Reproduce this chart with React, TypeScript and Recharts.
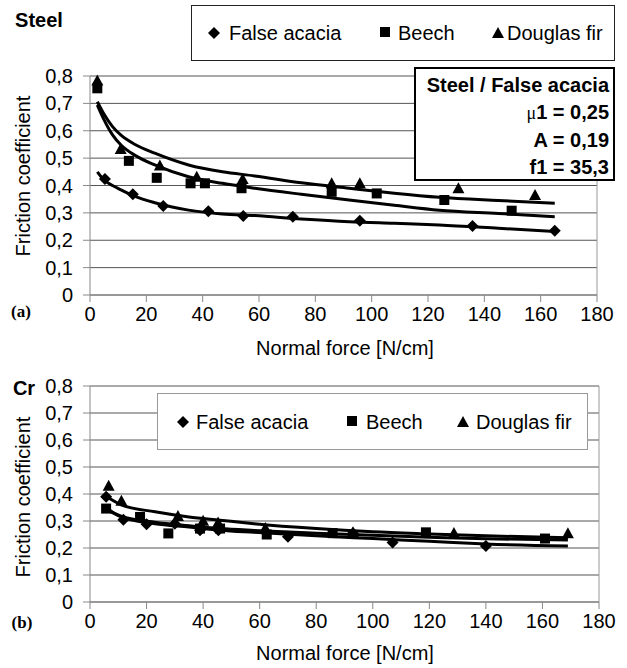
import React from "react";
import { ComposedChart, Line, Scatter, XAxis, YAxis, CartesianGrid, ReferenceLine } from "recharts";

const FONT = "'Liberation Sans', Arial, sans-serif";

const xTicks = [0, 20, 40, 60, 80, 100, 120, 140, 160, 180];
const yTicks = [0, 0.1, 0.2, 0.3, 0.4, 0.5, 0.6, 0.7, 0.8];
const seriesNames = ["False acacia", "Beech", "Douglas fir"];

// (a) Steel - measured points
const steelAcaciaX = [5.3, 15.2, 26, 42, 54.4, 72, 95.8, 135.8, 165];
const steelAcaciaY = [0.424, 0.368, 0.325, 0.306, 0.289, 0.286, 0.271, 0.252, 0.235];
const steelBeechX = [2.6, 13.8, 23.7, 35.7, 40.8, 53.8, 85.8, 101.8, 125.8, 149.7];
const steelBeechY = [0.755, 0.49, 0.428, 0.408, 0.408, 0.39, 0.377, 0.371, 0.347, 0.308];
const steelFirX = [2.6, 10.9, 24.8, 37.9, 54.2, 85.8, 95.8, 130.8, 158];
const steelFirY = [0.78, 0.53, 0.469, 0.428, 0.42, 0.405, 0.405, 0.386, 0.362];

// (a) Steel - fitted curves
const steelFitX = [2.6, 5, 8, 11, 16, 23, 35, 47, 58.5, 75, 92, 108, 124, 145, 165];
const steelAcaciaFit = [0.45, 0.42, 0.4, 0.384, 0.36, 0.337, 0.31, 0.296, 0.29, 0.278, 0.268, 0.262, 0.256, 0.244, 0.232];
const steelBeechFit = [0.694, 0.64, 0.585, 0.548, 0.51, 0.475, 0.432, 0.408, 0.39, 0.368, 0.347, 0.328, 0.31, 0.298, 0.286];
const steelFirFit = [0.706, 0.66, 0.615, 0.584, 0.55, 0.518, 0.475, 0.45, 0.435, 0.41, 0.39, 0.372, 0.357, 0.345, 0.335];

// (b) Cr - measured points
const crAcaciaX = [5.7, 11.8, 20, 30, 38.9, 45.4, 62, 70, 93, 107, 140];
const crAcaciaY = [0.39, 0.305, 0.288, 0.29, 0.266, 0.266, 0.26, 0.242, 0.255, 0.22, 0.207];
const crBeechX = [5.7, 17.7, 27.7, 38.9, 46, 62.5, 85.8, 118.8, 160.9];
const crBeechY = [0.346, 0.315, 0.254, 0.272, 0.272, 0.25, 0.255, 0.258, 0.235];
const crFirX = [6.6, 11.1, 31.1, 40, 45.3, 62, 93, 128.7, 169];
const crFirY = [0.427, 0.371, 0.315, 0.297, 0.291, 0.27, 0.255, 0.252, 0.251];

// (b) Cr - fitted curves
const crFitX = [5, 11, 23, 35, 46, 58, 80, 100, 120, 140, 169];
const crAcaciaFit = [0.355, 0.315, 0.29, 0.278, 0.266, 0.258, 0.245, 0.235, 0.225, 0.215, 0.207];
const crBeechFit = [0.345, 0.318, 0.295, 0.282, 0.272, 0.265, 0.255, 0.247, 0.24, 0.234, 0.23];
const crFirFit = [0.396, 0.36, 0.334, 0.315, 0.303, 0.29, 0.272, 0.26, 0.252, 0.245, 0.238];

const zip = (xs: number[], ys: number[]) => xs.map((x, i) => ({ x, y: ys[i] }));

const Diamond = (p: any) => (
  <path d={`M${p.cx},${p.cy - 6}L${p.cx + 6},${p.cy}L${p.cx},${p.cy + 6}L${p.cx - 6},${p.cy}Z`} fill="#000" />
);
const Square = (p: any) => <rect x={p.cx - 5} y={p.cy - 5} width={10} height={10} fill="#000" />;
const Triangle = (p: any) => (
  <path d={`M${p.cx},${p.cy - 7}L${p.cx + 6},${p.cy + 4}L${p.cx - 6},${p.cy + 4}Z`} fill="#000" />
);
const shapes = [Diamond, Square, Triangle];

const fmtY = (v: number) => (v === 0 ? "0" : v.toFixed(1).replace(".", ","));

type PanelProps = {
  top: number;
  height: number;
  margin: { top: number; right: number; bottom: number; left: number };
  marks: { x: number; y: number }[][];
  fits: { x: number; y: number }[][];
};

function Panel({ top, height, margin, marks, fits }: PanelProps) {
  return (
    <div style={{ position: "absolute", left: 0, top }}>
      <ComposedChart width={627} height={height} margin={margin}>
        <CartesianGrid vertical={false} stroke="#555" strokeWidth={1} />
        <XAxis
          type="number"
          dataKey="x"
          domain={[0, 180]}
          ticks={xTicks}
          interval={0}
          height={30}
          tickSize={7}
          tickMargin={5}
          stroke="#888"
          tick={{ fill: "#000", fontSize: 20, fontFamily: FONT }}
        />
        <YAxis
          type="number"
          dataKey="y"
          domain={[0, 0.8]}
          ticks={yTicks}
          interval={0}
          width={50}
          tickSize={7}
          tickMargin={10}
          stroke="#888"
          tickFormatter={fmtY}
          tick={{ fill: "#000", fontSize: 20, fontFamily: FONT }}
        />
        <ReferenceLine x={180} stroke="#999" />
        {fits.map((d, i) => (
          <Line
            key={"f" + i}
            data={d}
            dataKey="y"
            type="monotone"
            stroke="#000"
            strokeWidth={3}
            dot={false}
            activeDot={false}
            isAnimationActive={false}
          />
        ))}
        {marks.map((d, i) => (
          <Scatter key={"m" + i} data={d} dataKey="y" name={seriesNames[i]} shape={shapes[i]} isAnimationActive={false} />
        ))}
      </ComposedChart>
    </div>
  );
}

const Txt = ({ x, y, children, style }: any) => (
  <div
    style={{
      position: "absolute",
      left: x,
      top: y,
      transform: "translate(-50%, -50%)",
      whiteSpace: "nowrap",
      lineHeight: 1,
      fontFamily: FONT,
      fontSize: 20,
      ...style,
    }}
  >
    {children}
  </div>
);

const icons = [
  <svg width={14} height={14}><path d="M7,1L13,7L7,13L1,7Z" fill="#000" /></svg>,
  <svg width={12} height={12}><rect x={1} y={1} width={10} height={10} fill="#000" /></svg>,
  <svg width={14} height={13}><path d="M7,1L13,12L1,12Z" fill="#000" /></svg>,
];

function LegendBox({ left, top, width, height, border, iconX, textX }: any) {
  return (
    <div
      style={{
        position: "absolute",
        left,
        top,
        width,
        height,
        boxSizing: "border-box",
        border,
        background: "#fff",
        fontFamily: FONT,
        fontSize: 20,
      }}
    >
      {seriesNames.map((n, i) => (
        <React.Fragment key={n}>
          <div style={{ position: "absolute", left: iconX[i] - left - 7, top: height / 2 - 8, lineHeight: 0 }}>{icons[i]}</div>
          <div style={{ position: "absolute", left: textX[i] - left, top: height / 2 - 12, lineHeight: "22px" }}>{n}</div>
        </React.Fragment>
      ))}
    </div>
  );
}

export default function App() {
  return (
    <div style={{ position: "absolute", left: 0, top: 0, width: 627, height: 668, background: "#fff" }}>
      <Panel
        top={0}
        height={330}
        margin={{ top: 76, right: 30, bottom: 5, left: 40 }}
        marks={[zip(steelAcaciaX, steelAcaciaY), zip(steelBeechX, steelBeechY), zip(steelFirX, steelFirY)]}
        fits={[zip(steelFitX, steelAcaciaFit), zip(steelFitX, steelBeechFit), zip(steelFitX, steelFirFit)]}
      />
      <Panel
        top={340}
        height={328}
        margin={{ top: 46, right: 28, bottom: 36, left: 40 }}
        marks={[zip(crAcaciaX, crAcaciaY), zip(crBeechX, crBeechY), zip(crFirX, crFirY)]}
        fits={[zip(crFitX, crAcaciaFit), zip(crFitX, crBeechFit), zip(crFitX, crFirFit)]}
      />

      <LegendBox
        left={191}
        top={5}
        width={424}
        height={56}
        border="1px solid #222"
        iconX={[213, 385, 497]}
        textX={[228, 397, 506]}
      />
      <LegendBox
        left={157}
        top={393}
        width={431}
        height={57}
        border="1px solid #999"
        iconX={[182, 352, 462]}
        textX={[195, 365, 475]}
      />

      <div
        style={{
          position: "absolute",
          left: 414,
          top: 67,
          width: 201,
          height: 114,
          boxSizing: "border-box",
          border: "2px solid #000",
          background: "#fff",
          fontFamily: FONT,
          fontSize: 20,
          fontWeight: "bold",
          textAlign: "right",
          padding: "3px 4px 0 0",
          lineHeight: "27px",
        }}
      >
        <div>Steel / False acacia</div>
        <div>
          <span style={{ fontWeight: "normal", fontFamily: "'Liberation Serif', serif", fontSize: 18 }}>μ</span>1 = 0,25
        </div>
        <div>A = 0,19</div>
        <div>f1 = 35,3</div>
      </div>

      <Txt x={39} y={20} style={{ fontWeight: "bold" }}>Steel</Txt>
      <Txt x={21} y={311} style={{ fontWeight: "bold", fontFamily: "'Liberation Serif', serif", fontSize: 17 }}>(a)</Txt>
      <Txt x={345} y={348}>Normal force [N/cm]</Txt>
      <Txt x={23} y={176} style={{ transform: "translate(-50%, -50%) rotate(-90deg)" }}>Friction coefficient</Txt>

      <Txt x={24} y={388} style={{ fontWeight: "bold" }}>Cr</Txt>
      <Txt x={22} y={622} style={{ fontWeight: "bold", fontFamily: "'Liberation Serif', serif", fontSize: 17 }}>(b)</Txt>
      <Txt x={345} y={653}>Normal force [N/cm]</Txt>
      <Txt x={23} y={497} style={{ transform: "translate(-50%, -50%) rotate(-90deg)" }}>Friction coefficient</Txt>
    </div>
  );
}
